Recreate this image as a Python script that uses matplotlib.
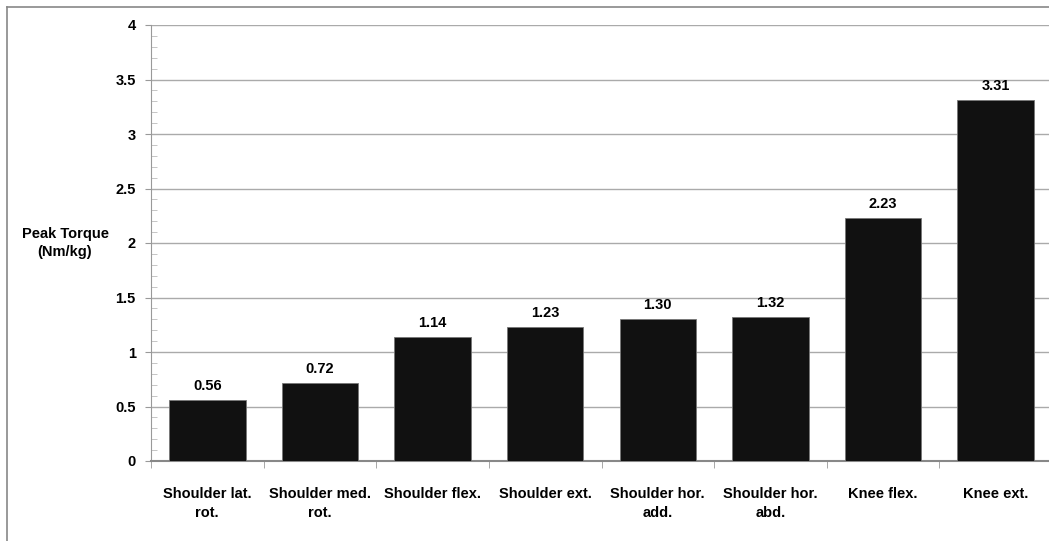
import numpy as np
import matplotlib.pyplot as plt
from matplotlib.lines import Line2D
from matplotlib.ticker import MultipleLocator

plt.rcParams['font.family'] = ['Liberation Sans Narrow', 'Liberation Sans', 'DejaVu Sans']
plt.rcParams['font.weight'] = 'bold'

categories = ["Shoulder lat.\nrot.", "Shoulder med.\nrot.", "Shoulder flex.",
              "Shoulder ext.", "Shoulder hor.\nadd.", "Shoulder hor.\nabd.",
              "Knee flex.", "Knee ext."]
torque = [0.56, 0.72, 1.14, 1.23, 1.30, 1.32, 2.23, 3.31]

fig = plt.figure(figsize=(10.49, 5.41), dpi=100)
W, H = 1049, 541
ax = fig.add_axes([151 / W, 1 - 461 / H, 901 / W, 436 / H])

x = np.arange(len(categories))
ax.bar(x, torque, width=0.68, color='#111111', edgecolor='#777777', linewidth=0.6, zorder=3)
for xi, v in zip(x, torque):
    ax.annotate(f"{v:.2f}", (xi, v), xytext=(0, 5), textcoords='offset points',
                ha='center', va='bottom', fontsize=10.5, fontweight='bold')

ax.set_xlim(-0.5, len(categories) - 0.5)
ax.set_ylim(0, 4)
ax.yaxis.set_major_locator(MultipleLocator(0.5))
ax.yaxis.set_minor_locator(MultipleLocator(0.1))
ax.set_yticks([0, 0.5, 1, 1.5, 2, 2.5, 3, 3.5, 4])
ax.set_yticklabels(['0', '0.5', '1', '1.5', '2', '2.5', '3', '3.5', '4'])
ax.grid(axis='y', which='major', color='#aaaaaa', linewidth=1.0, zorder=0)

ax.set_xticks(x)
ax.set_xticklabels(categories, fontsize=10.5, fontweight='bold', linespacing=1.45)
ax.set_xticks(np.arange(len(categories) + 1) - 0.5, minor=True)
ax.tick_params(axis='x', which='major', length=0, pad=19)
ax.tick_params(axis='x', which='minor', length=5, color='#999999', direction='out')
ax.tick_params(axis='y', which='major', length=4, color='#999999', direction='out',
               labelsize=10.5, pad=7)
ax.tick_params(axis='y', which='minor', length=4, color='#bbbbbb', direction='in')
for lab in ax.get_yticklabels():
    lab.set_fontweight('bold')

for s in ['top', 'right']:
    ax.spines[s].set_visible(False)
ax.spines['left'].set_color('#999999')
ax.spines['bottom'].set_color('#888888')
ax.spines['bottom'].set_linewidth(1.5)

fig.text(65 / W, 1 - 243 / H, "Peak Torque\n(Nm/kg)", ha='center', va='center',
         fontsize=10.5, fontweight='bold', linespacing=1.45)

# outer chart frame (left and top edges visible)
fig.add_artist(Line2D([7 / W, 7 / W], [0, 1 - 7 / H], transform=fig.transFigure,
                      color='#888888', linewidth=1.2))
fig.add_artist(Line2D([7 / W, 1], [1 - 7 / H, 1 - 7 / H], transform=fig.transFigure,
                      color='#888888', linewidth=1.2))

fig.savefig("out.png", dpi=100)
